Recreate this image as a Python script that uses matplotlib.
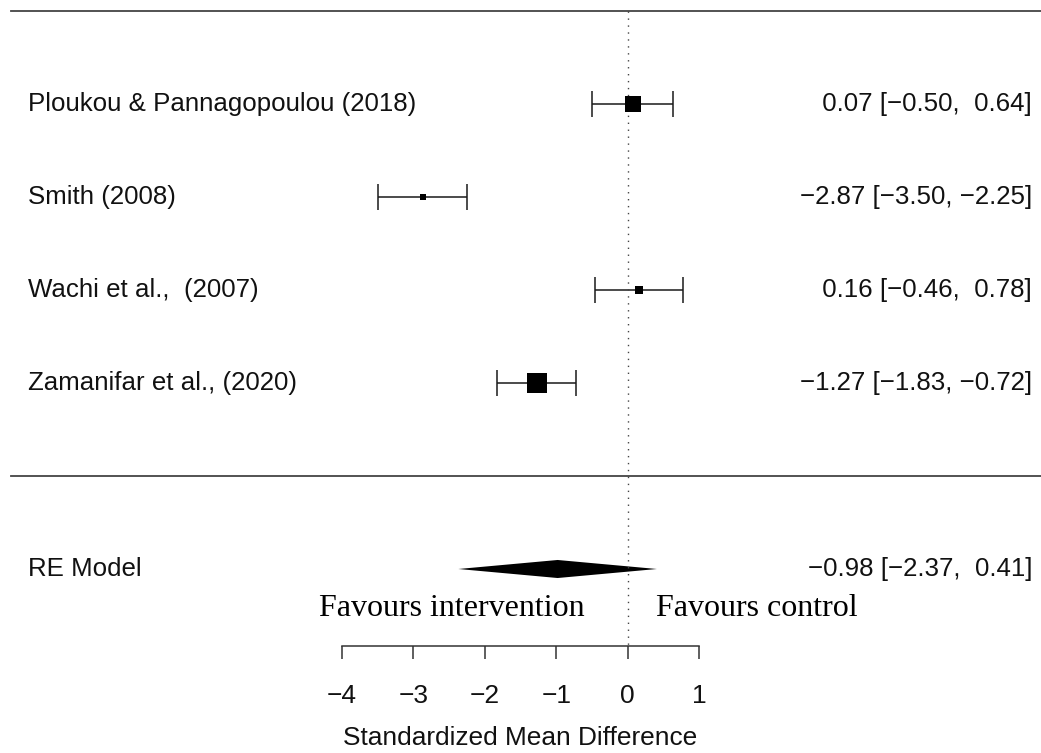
import numpy as np
import matplotlib
matplotlib.use("Agg")
import matplotlib.pyplot as plt

# study results (standardized mean difference with 95% CI)
estudos = ["Ploukou & Pannagopoulou (2018)", "Smith (2008)",
           "Wachi et al.,  (2007)", "Zamanifar et al., (2020)"]
smd = [0.07, -2.87, 0.16, -1.27]
ic_inf = [-0.50, -3.50, -0.46, -1.83]
ic_sup = [0.64, -2.25, 0.78, -0.72]

# random-effects summary
re_smd = -0.98
re_inf = -2.37
re_sup = 0.41

ticks = [-4, -3, -2, -1, 0, 1]

plt.rcParams['font.family'] = ['Liberation Sans', 'DejaVu Sans']

fig = plt.figure(figsize=(10.41, 7.53), dpi=100)
ax = fig.add_axes([0, 0, 1, 1])

px = 71.4  # pixels per unit on the x scale
ax.set_xlim(-4 - 342 / px, 1 + 342 / px)
ax.set_ylim(4 - 649 / 93, 4 + 104 / 93)

k = len(estudos)
linhas = np.arange(k, 0, -1)

def fmt(v):
    return f"{v:5.2f}".replace("-", "\u2212")

# square size from precision (1/se), scaled 0.5..1.5
se = (np.array(ic_sup) - np.array(ic_inf)) / (2 * 1.96)
w = 1 / se
psize = (w - w.min()) / (w.max() - w.min()) + 0.5

cor = "#1a1a1a"
fs = 18.6
for i in range(k):
    y = linhas[i]
    ax.errorbar(smd[i], y, xerr=[[smd[i] - ic_inf[i]], [ic_sup[i] - smd[i]]],
                fmt="none", ecolor=cor, elinewidth=1.1, capsize=9.5, capthick=1.1)
    ax.scatter(smd[i], y, marker="s", s=(9.6 * psize[i]) ** 2, color="black",
               zorder=3, linewidths=0)
    ax.text(-4 - 314 / px, y, estudos[i], fontsize=fs, va="center", ha="left", color="#111")
    ax.text(1 + 333 / px, y, f"{fmt(smd[i])} [{fmt(ic_inf[i])}, {fmt(ic_sup[i])}]",
            fontsize=fs, va="center", ha="right", color="#111")

# summary diamond
h = 0.097
ax.fill([re_inf, re_smd, re_sup, re_smd], [-1, -1 + h, -1, -1 - h],
        color="black", lw=0)
ax.text(-4 - 314 / px, -1, "RE Model", fontsize=fs, va="center", ha="left", color="#111")
ax.text(1 + 333 / px, -1, f"{fmt(re_smd)} [{fmt(re_inf)}, {fmt(re_sup)}]",
        fontsize=fs, va="center", ha="right", color="#111")

# separators and reference line
y_eixo = 4 - 542 / 93
x0 = 11 / 1041
ax.axhline(k + 1, xmin=x0, xmax=1, color="#444", lw=1.3)
ax.axhline(0, xmin=x0, xmax=1, color="#444", lw=1.3)
ax.plot([0, 0], [k + 1, y_eixo], color="#444", lw=1, ls=(0, (1, 4)))

# x axis at the bottom
for s in ["top", "right", "left"]:
    ax.spines[s].set_visible(False)
ax.spines["bottom"].set_position(("data", y_eixo))
ax.spines["bottom"].set_bounds(ticks[0], ticks[-1])
ax.spines["bottom"].set_color("#333")
ax.spines["bottom"].set_linewidth(1.1)
ax.set_xticks(ticks)
ax.set_xticklabels([str(t).replace("-", "\u2212") for t in ticks])
ax.tick_params(axis="x", direction="out", length=9.5, width=1.1, color="#333",
               labelsize=19, pad=18, labelcolor="#111")
ax.set_yticks([])

ax.text(-1.5, 4 - 634 / 93, "Standardized Mean Difference", fontsize=18.9,
        ha="center", va="center", color="#111")

# favours labels
ax.text(-4 + 243 / px, 4 - 512 / 93, "Favours intervention", family="Liberation Serif",
        fontsize=23, ha="right", va="baseline")
ax.text(28 / px, 4 - 512 / 93, "Favours control", family="Liberation Serif",
        fontsize=23, ha="left", va="baseline")

fig.savefig("out.png", dpi=100)
